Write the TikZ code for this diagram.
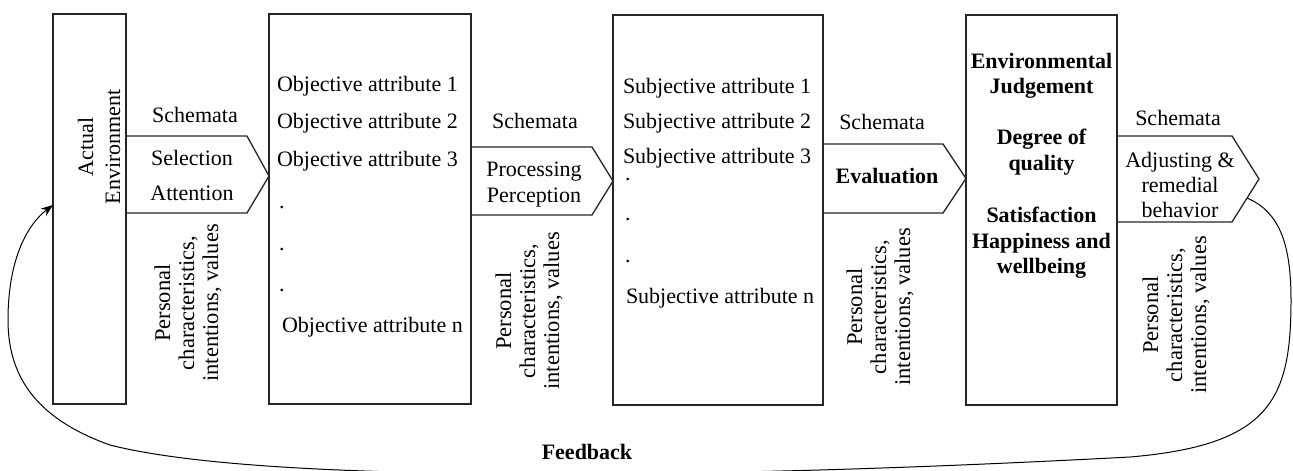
\documentclass[tikz,border=0pt]{standalone}
\usepackage{fontspec}
\setmainfont{Liberation Serif}
\usetikzlibrary{arrows.meta}
\begin{document}
\begin{tikzpicture}[x=1pt,y=-1pt,
  box/.style={draw=black!85, line width=1.3pt, inner sep=0pt, outer sep=0pt},
  chev/.style={draw=black!85, line width=1.3pt},
  txt/.style={font=\fontsize{22}{26}\selectfont, inner sep=0pt, outer sep=0pt},
  bl/.style={txt, anchor=base},
  lw/.style={txt, anchor=base west},
  rot/.style={txt, rotate=90, align=center, font=\fontsize{22.5}{24}\selectfont},
  fb/.style={line width=1pt, black}]
\useasboundingbox (0,0) rectangle (1293,471);

% boxes
\node[box, minimum width=73pt, minimum height=390pt] (b1) at (89.5,209) {};
\node[box, minimum width=202pt, minimum height=390pt] (b2) at (370,209) {};
\node[box, minimum width=210pt, minimum height=390pt] (b3) at (718,210) {};
\node[box, minimum width=151pt, minimum height=390pt] (b4) at (1041.5,210) {};

% chevron arrows
\draw[chev] (b1.east |- 0,136) -- (247,136) -- (b2.west |- 0,176) -- (247,213) -- (b1.east |- 0,213);
\draw[chev] (b2.east |- 0,147) -- (592,147) -- (b3.west |- 0,181) -- (592,215) -- (b2.east |- 0,215);
\draw[chev] (b3.east |- 0,144) -- (943,144) -- (b4.west |- 0,178.5) -- (943,213) -- (b3.east |- 0,213);
\draw[chev] (b4.east |- 0,136) -- (1232,136) -- (1259,179) coordinate (a4tip) -- (1232,222) -- (b4.east |- 0,222);

% box 1
\node[rot, font=\fontsize{22}{27}\selectfont] (t1) at (99,147) {Actual\\Environment};

% arrow 1
\node[bl] (s1) at (195,122) {Schemata};
\node[txt, align=center, font=\fontsize{22}{35}\selectfont] (a1) at (192,175) {Selection\\Attention};
\node[rot] (p1) at (188,303) {Personal\\characteristics,\\intentions, values};

% box 2
\node[lw] (o1) at (277,91) {Objective attribute 1};
\node[lw] (o2) at (277,128) {Objective attribute 2};
\node[lw] (o3) at (277,166) {Objective attribute 3};
\node[lw] (od1) at (279,208) {.};
\node[lw] (od2) at (279,250) {.};
\node[lw] (od3) at (279,291) {.};
\node[lw] (on) at (282,332) {Objective attribute n};

% arrow 2
\node[bl] (s2) at (535,128) {Schemata};
\node[txt, align=center, font=\fontsize{22}{26}\selectfont] (a2) at (534,185) {Processing\\Perception};
\node[rot] (p2) at (529,311) {Personal\\characteristics,\\intentions, values};

% box 3
\node[lw] (u1) at (623,93) {Subjective attribute 1};
\node[lw] (u2) at (623,128) {Subjective attribute 2};
\node[lw] (u3) at (623,163) {Subjective attribute 3};
\node[lw] (ud1) at (625,180) {.};
\node[lw] (ud2) at (625,220) {.};
\node[lw] (ud3) at (625,262) {.};
\node[lw] (un) at (626,303) {Subjective attribute n};

% arrow 3
\node[bl] (s3) at (882,129) {Schemata};
\node[bl, font=\fontsize{22}{26}\selectfont\bfseries] (a3) at (887,183) {Evaluation};
\node[rot] (p3) at (880,307) {Personal\\characteristics,\\intentions, values};

% box 4
\node[txt, align=center, font=\fontsize{22}{25.5}\selectfont\bfseries] (j1) at (1041.5,76) {Environmental\\Judgement};
\node[txt, align=center, font=\fontsize{22}{25.5}\selectfont\bfseries] (j2) at (1041.5,152) {Degree of\\quality};
\node[txt, align=center, font=\fontsize{22}{25.5}\selectfont\bfseries] (j3) at (1041.5,243) {Satisfaction\\Happiness and\\wellbeing};

% arrow 4
\node[bl] (s4) at (1178,125) {Schemata};
\node[txt, align=center, font=\fontsize{22}{25}\selectfont] (a4) at (1180,185) {Adjusting \&\\remedial\\behavior};
\node[rot] (p4) at (1176,315) {Personal\\characteristics,\\intentions, values};

% feedback
\coordinate (fbstart) at (1247,198);
\coordinate (fbend) at (b1.west |- 0,205);
\draw[fb, -{Stealth[length=12pt,width=9pt]}] (fbstart)
  .. controls (1280,212) and (1291,245) .. (1291,300)
  .. controls (1291,400) and (1270,445) .. (1130,457)
  .. controls (960,466) and (760,474) .. (557,474)
  .. controls (380,474) and (200,468) .. (110,445)
  .. controls (40,420) and (8,380) .. (8,320)
  .. controls (8,258) and (28,224) .. (fbend);
\node[bl, font=\fontsize{22}{26}\selectfont\bfseries] (fbl) at (587,459) {Feedback};
\end{tikzpicture}
\end{document}
